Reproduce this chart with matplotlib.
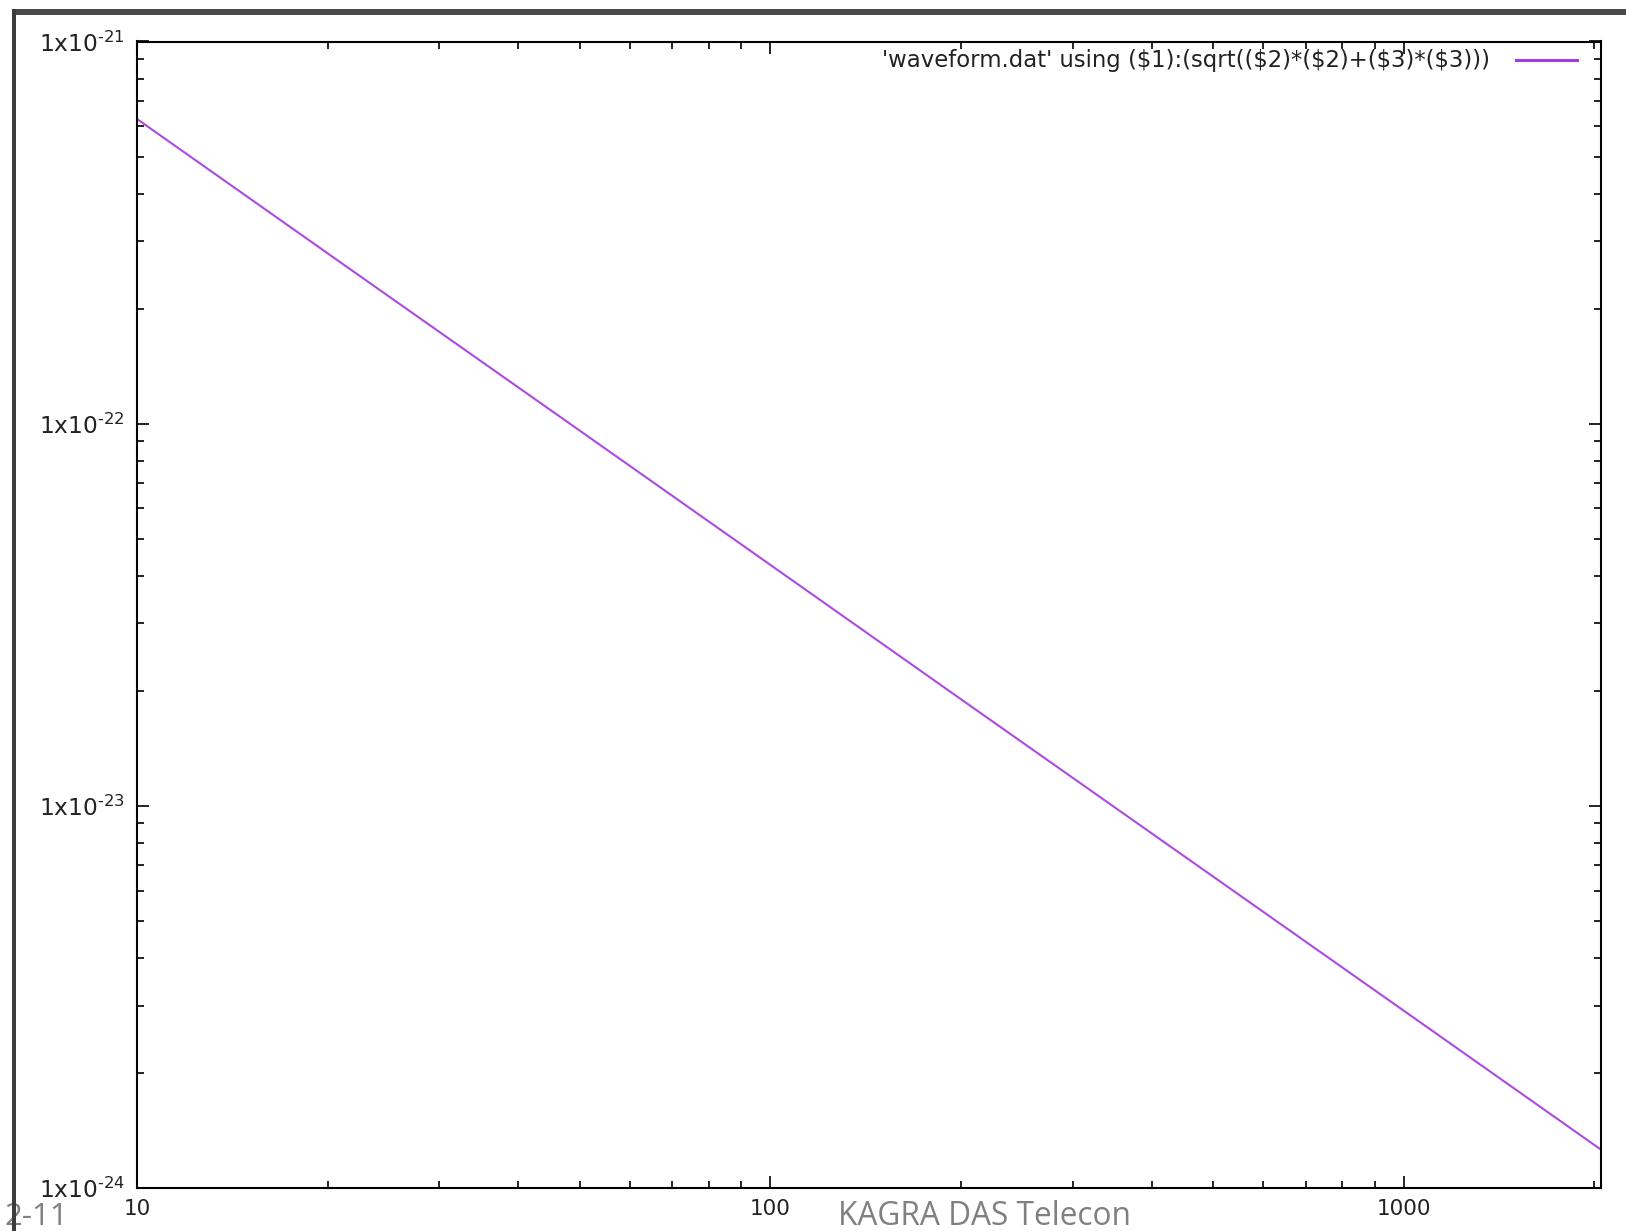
import numpy as np
import matplotlib
matplotlib.use("Agg")
import matplotlib.pyplot as plt
from matplotlib.ticker import LogLocator, NullFormatter, FuncFormatter, FixedLocator
from matplotlib.patches import Rectangle

# Data (frequency [Hz], amplitude)
freq = [10, 20, 50, 100, 200, 500, 1000, 2048]
amplitude = [6.27e-22, 2.79e-22, 9.59e-23, 4.27e-23, 1.90e-23, 6.53e-24, 2.91e-24, 1.26e-24]
legend_label = "'waveform.dat' using ($1):(sqrt(($2)*($2)+($3)*($3)))"
x_ticks = [10, 100, 1000]
y_ticks = [1e-24, 1e-23, 1e-22, 1e-21]
y_exponents = ["-24", "-23", "-22", "-21"]
footer_left = "2-11"
footer_center = "KAGRA DAS Telecon"

W, H = 1626, 1231
fig = plt.figure(figsize=(W / 100, H / 100), dpi=100)
fig.patch.set_facecolor("white")

left, right, top, bottom = 137, 1601, 41.5, 1188
ax = fig.add_axes([left / W, 1 - bottom / H, (right - left) / W, (bottom - top) / H])

line_color = "#ad4ae4"
ax.plot(freq, amplitude, color=line_color, lw=1.5, label=legend_label)

ax.set_xscale("log")
ax.set_yscale("log")
ax.set_xlim(10, 2048)
ax.set_ylim(1e-24, 1e-21)

ax.xaxis.set_major_locator(FixedLocator(x_ticks))
ax.xaxis.set_major_formatter(FuncFormatter(lambda v, p: "%d" % round(v)))
ax.xaxis.set_minor_locator(LogLocator(base=10, subs=np.arange(2, 10)))
ax.xaxis.set_minor_formatter(NullFormatter())

ylab = dict(zip(y_ticks, y_exponents))
ax.yaxis.set_major_locator(FixedLocator(y_ticks))
def yfmt(v, p):
    for k, e in ylab.items():
        if abs(np.log10(v) - np.log10(k)) < 1e-6:
            return r"1x10$^{\text{%s}}$" % e
    return ""
ax.yaxis.set_major_formatter(FuncFormatter(yfmt))
ax.yaxis.set_minor_locator(LogLocator(base=10, subs=np.arange(2, 10)))
ax.yaxis.set_minor_formatter(NullFormatter())

for s in ax.spines.values():
    s.set_linewidth(1.5)
    s.set_color("black")

ax.tick_params(which="both", direction="in", top=True, right=True, width=1.2,
               colors="black", labelcolor="#222222", labelsize=15.5)
ax.tick_params(which="major", length=8.5)
ax.tick_params(which="minor", length=5)
ax.tick_params(axis="y", which="major", pad=8.5, labelsize=16.8)
ax.tick_params(axis="x", which="major", pad=8)

leg = ax.legend(loc="center right", bbox_to_anchor=(1577 / W, 1 - 61 / H),
                bbox_transform=fig.transFigure, frameon=False, markerfirst=False,
                fontsize=16.4, handlelength=2.7, handletextpad=1.1, borderpad=0,
                borderaxespad=0)
for t in leg.get_texts():
    t.set_color("#222222")
for h in leg.get_lines():
    h.set_linewidth(2.2)
    h.set_color("#a43ee0")

# footer texts
fig.text(4 / W, 1 - 1225 / H, footer_left, fontsize=22.5, color="#808080",
         family="Open Sans", ha="left", va="baseline")
fig.text(838 / W, 1 - 1225 / H, footer_center, fontsize=22.8, color="#808080",
         family="Open Sans", ha="left", va="baseline")

# screenshot frame (dark lines at top and left)
fig.add_artist(Rectangle((12 / W, 1 - 15 / H), (W - 12) / W, 6 / H,
                         transform=fig.transFigure, facecolor="#4a4a4a",
                         edgecolor="none", zorder=10))
fig.add_artist(Rectangle((12 / W, 0), 4 / W, 1 - 9 / H,
                         transform=fig.transFigure, facecolor="#3c3c3c",
                         edgecolor="none", zorder=10))

fig.savefig("out.png", dpi=100)
